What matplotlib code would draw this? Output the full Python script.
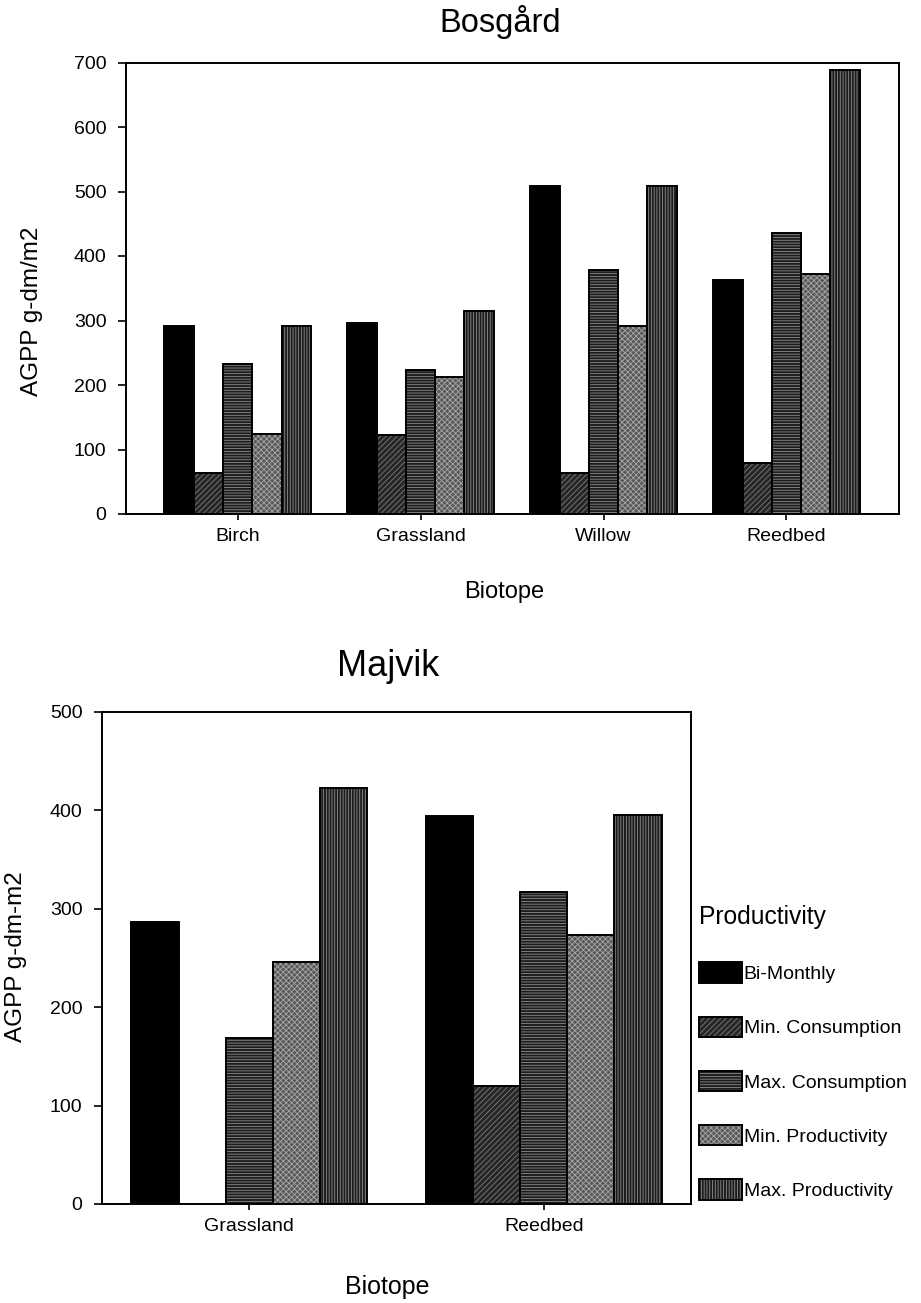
import numpy as np
import matplotlib
matplotlib.use("Agg")
import matplotlib.pyplot as plt
from matplotlib.patches import Patch

plt.rcParams['font.family'] = ['Liberation Sans', 'DejaVu Sans']
plt.rcParams['hatch.linewidth'] = 0.6

series_names = ["Bi-Monthly", "Min. Consumption", "Max. Consumption",
                "Min. Productivity", "Max. Productivity"]

# Bosgård
bos_biotopes = ["Birch", "Grassland", "Willow", "Reedbed"]
bos_bi_monthly = [291, 296, 509, 363]
bos_min_cons = [64, 123, 63, 79]
bos_max_cons = [232, 224, 378, 435]
bos_min_prod = [124, 213, 292, 372]
bos_max_prod = [292, 315, 509, 689]

# Majvik
maj_biotopes = ["Grassland", "Reedbed"]
maj_bi_monthly = [286, 394]
maj_min_cons = [0, 120]
maj_max_cons = [169, 317]
maj_min_prod = [246, 273]
maj_max_prod = [422, 395]

# fill colour, hatch colour, hatch pattern for each series
styles = {
    "Bi-Monthly":        ("black",   "black",   None),
    "Min. Consumption":  ("#262626", "#7c7c7c", "//////"),
    "Max. Consumption":  ("#1c1c1c", "#8e8e8e", "------"),
    "Min. Productivity": ("#585858", "#a8a8a8", "xxxxxx"),
    "Max. Productivity": ("#1c1c1c", "#8e8e8e", "||||||"),
}

BAR_W = 0.16
EDGE_W = 1.4


def draw_bars(ax, cats, data):
    x = np.arange(len(cats))
    for i, (name, vals) in enumerate(zip(series_names, data)):
        face, hcol, hatch = styles[name]
        pos = x + (i - 2) * BAR_W
        ax.bar(pos, vals, BAR_W, color=face, edgecolor=hcol, hatch=hatch, linewidth=0)
        ax.bar(pos, vals, BAR_W, fill=False, edgecolor='black', linewidth=EDGE_W)
    ax.set_xticks(x)
    ax.set_xticklabels(cats)


def style_axes(ax):
    for sp in ax.spines.values():
        sp.set_linewidth(1.4)
    ax.tick_params(axis='both', direction='out', width=1.2, labelsize=14)
    ax.tick_params(axis='y', length=6, pad=8)
    ax.tick_params(axis='x', length=4, pad=6)
    ax.tick_params(top=False, right=False)


fig = plt.figure(figsize=(9.21, 13.03), dpi=100)
W, H = 921.0, 1303.0

# top chart
ax1 = fig.add_axes([126 / W, 1 - 514 / H, (899 - 126) / W, (514 - 62.5) / H])
draw_bars(ax1, bos_biotopes,
          [bos_bi_monthly, bos_min_cons, bos_max_cons, bos_min_prod, bos_max_prod])
ax1.set_xlim(-0.61, 3.615)
ax1.set_ylim(0, 700)
ax1.set_yticks(range(0, 701, 100))
style_axes(ax1)
fig.text(500 / W, 1 - 22 / H, "Bosgård", ha='center', va='center', fontsize=23.5)
fig.text(32 / W, 1 - 311 / H, "AGPP g-dm/m2", rotation=90, ha='center', va='center', fontsize=17.5)
fig.text(504 / W, 1 - 592 / H, "Biotope", ha='center', va='center', fontsize=17)

# bottom chart
ax2 = fig.add_axes([102 / W, 1 - 1204 / H, (691 - 102) / W, (1204 - 711.7) / H])
draw_bars(ax2, maj_biotopes,
          [maj_bi_monthly, maj_min_cons, maj_max_cons, maj_min_prod, maj_max_prod])
ax2.set_xlim(-0.5, 1.5)
ax2.set_ylim(0, 500)
ax2.set_yticks(range(0, 501, 100))
style_axes(ax2)
fig.text(388 / W, 1 - 667 / H, "Majvik", ha='center', va='center', fontsize=26)
fig.text(16 / W, 1 - 957 / H, "AGPP g-dm-m2", rotation=90, ha='center', va='center', fontsize=17.5)
fig.text(387 / W, 1 - 1287 / H, "Biotope", ha='center', va='center', fontsize=18)

handles = []
for name in series_names:
    face, hcol, hatch = styles[name]
    handles.append((Patch(facecolor=face, edgecolor=hcol, hatch=hatch, linewidth=0),
                    Patch(fill=False, edgecolor='black', linewidth=EDGE_W)))
leg = ax2.legend(handles, series_names, title="Productivity",
                 loc='upper left', bbox_to_anchor=(699 / W, 1 - 905 / H),
                 bbox_transform=fig.transFigure, frameon=False,
                 fontsize=14, title_fontsize=17.7, alignment='left',
                 handlelength=2.2, handleheight=1.24, handletextpad=0.1,
                 labelspacing=1.72, borderpad=0, borderaxespad=0)

fig.savefig("out.png", dpi=100)
